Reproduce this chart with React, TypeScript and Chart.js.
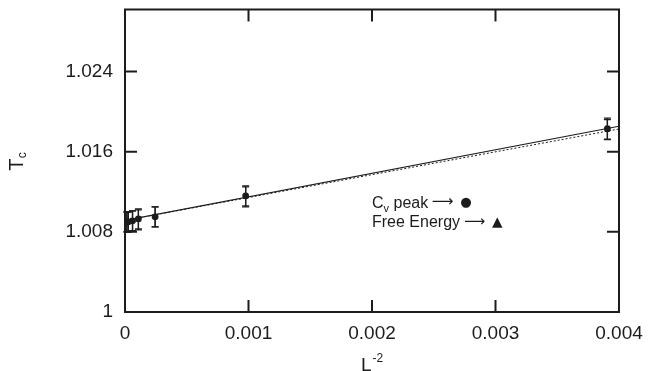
import React, { useEffect, useRef } from "react";
import { Chart, registerables } from "chart.js";

Chart.register(...registerables);

// ---- data ----
const L_SIZES = [16, 32, 64, 96, 128, 192, 256];
const L_INV_SQ = [0.003906, 0.000977, 0.000244, 0.0001085, 0.000061, 0.0000271, 0.0000153];
const CV_PEAK_TC = [1.0183, 1.0116, 1.0095, 1.0093, 1.0091, 1.009, 1.009];
const CV_PEAK_ERR = [0.00105, 0.001, 0.001, 0.001, 0.001, 0.001, 0.001];
const FREE_ENERGY_TC = [1.0182, 1.0115, 1.0095, 1.0092, 1.0091, 1.009, 1.009];
const FREE_ENERGY_ERR = [0.001, 0.001, 0.001, 0.001, 0.001, 0.001, 0.001];
const FIT_X = [0, 0.004];
const FIT_CV_PEAK = [1.00915, 1.01855];
const FIT_FREE_ENERGY = [1.00915, 1.01827];
const X_TICKS = [0, 0.001, 0.002, 0.003, 0.004];
const X_TICK_LABELS = ["0", "0.001", "0.002", "0.003", "0.004"];
const Y_TICKS = [1, 1.008, 1.016, 1.024];
const Y_TICK_LABELS = ["1", "1.008", "1.016", "1.024"];
const X_RANGE = [0, 0.004];
const Y_RANGE = [1, 1.0302];

const INK = "#1c1c1c";
const FONT = "'Liberation Sans', Arial, Helvetica, sans-serif";

const pts = (xs: number[], ys: number[]) => xs.map((x, i) => ({ x, y: ys[i] }));

// draw a glyph so that its ink box is centred at (cx, cy) with the given ink width
function drawGlyph(ctx: any, ch: string, family: string, cx: number, cy: number, inkW: number) {
  ctx.font = `20px ${family}`;
  let m = ctx.measureText(ch);
  let w = m.actualBoundingBoxRight + m.actualBoundingBoxLeft;
  const size = w > 0 ? (20 * inkW) / w : 20;
  ctx.font = `${size}px ${family}`;
  m = ctx.measureText(ch);
  const left = m.actualBoundingBoxLeft;
  const right = m.actualBoundingBoxRight;
  const asc = m.actualBoundingBoxAscent;
  const desc = m.actualBoundingBoxDescent;
  const x = cx - (right - left) / 2;
  const y = cy + (asc - desc) / 2;
  ctx.textAlign = "left";
  ctx.textBaseline = "alphabetic";
  ctx.fillText(ch, x, y);
}

const decorPlugin = {
  id: "decor",
  afterDatasetsDraw(chart: any) {
    const { ctx, chartArea: a, scales } = chart;
    const xs = scales.x;
    const ys = scales.y;
    ctx.save();
    ctx.strokeStyle = INK;
    ctx.fillStyle = INK;

    // error bars
    const drawErr = (yv: number[], ev: number[]) => {
      ctx.lineWidth = 1.3;
      L_INV_SQ.forEach((xv, i) => {
        const px = xs.getPixelForValue(xv);
        const y1 = ys.getPixelForValue(yv[i] + ev[i]);
        const y2 = ys.getPixelForValue(yv[i] - ev[i]);
        ctx.beginPath();
        ctx.moveTo(px, y1);
        ctx.lineTo(px, y2);
        ctx.moveTo(px - 3.5, y1);
        ctx.lineTo(px + 3.5, y1);
        ctx.moveTo(px - 3.5, y2);
        ctx.lineTo(px + 3.5, y2);
        ctx.stroke();
      });
    };
    drawErr(FREE_ENERGY_TC, FREE_ENERGY_ERR);
    drawErr(CV_PEAK_TC, CV_PEAK_ERR);

    // frame
    ctx.lineWidth = 2;
    ctx.strokeRect(a.left, a.top, a.right - a.left, a.bottom - a.top);

    // inward ticks, mirrored
    const TL = 12;
    ctx.beginPath();
    X_TICKS.forEach((v) => {
      const px = xs.getPixelForValue(v);
      ctx.moveTo(px, a.bottom);
      ctx.lineTo(px, a.bottom - TL);
      ctx.moveTo(px, a.top);
      ctx.lineTo(px, a.top + TL);
    });
    Y_TICKS.forEach((v) => {
      const py = ys.getPixelForValue(v);
      ctx.moveTo(a.left, py);
      ctx.lineTo(a.left + TL, py);
      ctx.moveTo(a.right, py);
      ctx.lineTo(a.right - TL, py);
    });
    ctx.stroke();

    // axis titles
    const cx = (a.left + a.right) / 2;
    ctx.textBaseline = "alphabetic";
    ctx.textAlign = "left";
    ctx.font = `19px ${FONT}`;
    const wL = ctx.measureText("L").width;
    ctx.font = `12px ${FONT}`;
    const wSup = ctx.measureText("-2").width;
    const startX = cx - (wL + 1 + wSup) / 2;
    ctx.font = `19px ${FONT}`;
    ctx.fillText("L", startX, 370.5);
    ctx.font = `12px ${FONT}`;
    ctx.fillText("-2", startX + wL + 1, 362);

    // y title T_c rotated
    ctx.save();
    const cy = (a.top + a.bottom) / 2;
    ctx.translate(23, cy + 1);
    ctx.rotate(-Math.PI / 2);
    ctx.font = `20px ${FONT}`;
    const wT = ctx.measureText("T").width;
    ctx.font = `12px ${FONT}`;
    const wc = ctx.measureText("c").width;
    const sx = -(wT + wc) / 2;
    ctx.font = `20px ${FONT}`;
    ctx.fillText("T", sx, 0);
    ctx.font = `12px ${FONT}`;
    ctx.fillText("c", sx + wT + 0.5, 2.5);
    ctx.restore();

    // annotation
    const lx = xs.getPixelForValue(0.002);
    const b1 = ys.getPixelForValue(1.01035);
    const b2 = ys.getPixelForValue(1.00845);
    ctx.font = `16px ${FONT}`;
    ctx.fillText("C", lx, b1);
    let x = lx + ctx.measureText("C").width;
    ctx.font = `11px ${FONT}`;
    ctx.fillText("v", x, b1 + 3.4);
    x += ctx.measureText("v").width;
    ctx.font = `16px ${FONT}`;
    ctx.fillText(" peak ", x, b1);
    x += ctx.measureText(" peak ").width;
    drawGlyph(ctx, "\u27F6", "'DejaVu Sans', sans-serif", x + 10, b1 - 6.5, 20.5);
    drawGlyph(ctx, "\u25CF", "'DejaVu Sans', sans-serif", x + 33, b1 - 6, 10.5);

    ctx.font = `16px ${FONT}`;
    ctx.fillText("Free Energy ", lx, b2);
    let x2 = lx + ctx.measureText("Free Energy ").width;
    drawGlyph(ctx, "\u27F6", "'DejaVu Sans', sans-serif", x2 + 10, b2 - 5.5, 20);
    drawGlyph(ctx, "\u25B2", "'DejaVu Sans', sans-serif", x2 + 33, b2 - 4.5, 11);

    ctx.restore();
  },
};

export default function App() {
  const ref = useRef<HTMLCanvasElement | null>(null);
  useEffect(() => {
    if (!ref.current) return;
    const zeroPad = (s: any) => {
      s.paddingTop = 0;
      s.paddingBottom = 0;
      s.paddingLeft = 0;
      s.paddingRight = 0;
    };
    const chart = new Chart(ref.current, {
      type: "scatter",
      data: {
        datasets: [
          {
            label: "Cv peak",
            data: pts(L_INV_SQ, CV_PEAK_TC),
            pointStyle: "circle",
            pointRadius: 3.4,
            backgroundColor: INK,
            borderColor: INK,
            borderWidth: 0,
            showLine: false,
            order: 1,
          },
          {
            label: "Free Energy",
            data: pts(L_INV_SQ, FREE_ENERGY_TC),
            pointStyle: "triangle",
            pointRadius: 3.4,
            backgroundColor: INK,
            borderColor: INK,
            borderWidth: 0,
            showLine: false,
            order: 2,
          },
          {
            label: "fit Cv peak",
            data: pts(FIT_X, FIT_CV_PEAK),
            showLine: true,
            pointRadius: 0,
            borderColor: INK,
            borderWidth: 1.1,
            order: 3,
          },
          {
            label: "fit Free Energy",
            data: pts(FIT_X, FIT_FREE_ENERGY),
            showLine: true,
            pointRadius: 0,
            borderColor: INK,
            borderWidth: 1,
            borderDash: [2, 2],
            order: 4,
          },
        ],
      },
      options: {
        animation: false,
        responsive: false,
        devicePixelRatio: 1,
        layout: { padding: { top: 9.5, right: 29, left: 0, bottom: 0 } },
        plugins: { legend: { display: false }, tooltip: { enabled: false } },
        scales: {
          x: {
            type: "linear",
            min: X_RANGE[0],
            max: X_RANGE[1],
            grid: { display: false, drawTicks: false },
            border: { display: false },
            afterBuildTicks: (s: any) => {
              s.ticks = X_TICKS.map((v) => ({ value: v }));
            },
            afterFit: (s: any) => {
              s.height = 59;
              zeroPad(s);
            },
            ticks: {
              padding: 10.5,
              color: INK,
              font: { family: FONT, size: 19 },
              maxRotation: 0,
              autoSkip: false,
              callback: (_v: any, i: number) => X_TICK_LABELS[i],
            },
          },
          y: {
            type: "linear",
            min: Y_RANGE[0],
            max: Y_RANGE[1],
            grid: { display: false, drawTicks: false },
            border: { display: false },
            afterBuildTicks: (s: any) => {
              s.ticks = Y_TICKS.map((v) => ({ value: v }));
            },
            afterFit: (s: any) => {
              s.width = 125;
              zeroPad(s);
            },
            ticks: {
              padding: 12,
              color: INK,
              font: { family: FONT, size: 19 },
              autoSkip: false,
              callback: (_v: any, i: number) => Y_TICK_LABELS[i],
            },
          },
        },
      },
      plugins: [decorPlugin],
    });
    return () => chart.destroy();
  }, []);
  return (
    <div style={{ position: "absolute", left: 0, top: 0, width: 648, height: 371, background: "#fff" }}>
      <canvas ref={ref} width={648} height={371} style={{ display: "block" }} />
    </div>
  );
}
